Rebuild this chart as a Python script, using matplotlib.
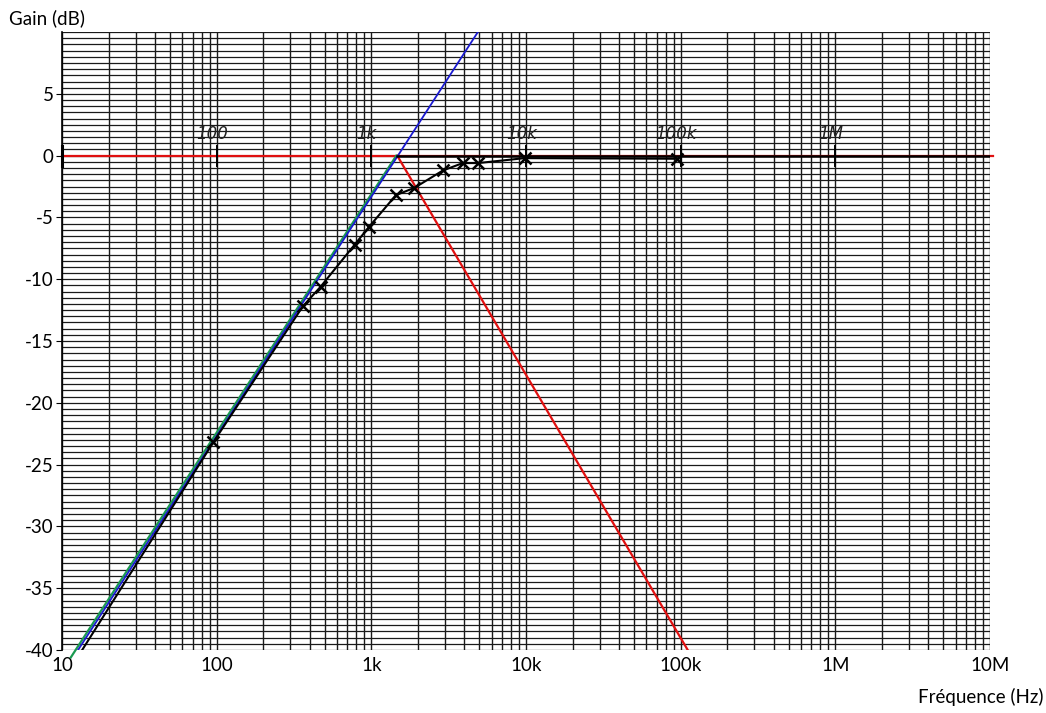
import numpy as np
import matplotlib.pyplot as plt

plt.rcParams['font.family'] = ['Lato', 'DejaVu Sans']

# measured points (Hz, dB)
freq_meas = [13.5, 95, 360, 470, 780, 960, 1440, 1900, 2900, 3900, 4900, 9800, 94000]
gain_meas = [-40, -23.2, -12.2, -10.6, -7.2, -5.8, -3.2, -2.6, -1.2, -0.6, -0.6, -0.2, -0.25]

# asymptotes
red_flat_f = [10, 1.05e7]
red_flat_g = [0, 0]
red_slope_f = [1470, 111000]
red_slope_g = [0, -40]
blue_f = [12.7, 4880]
blue_g = [-40, 10]
green_f = [11.4, 1450]
green_g = [-40.6, 0]
black_flat_f = [1470, 1e7]
black_flat_g = [0, 0]

decade_marks = [10, 100, 1000, 10000, 100000, 1000000]
hand_labels = ['100', '1k', '10k', '100k', '1M']
hand_pos = [100, 1000, 10000, 100000, 1000000]

yticks = [5, 0, -5, -10, -15, -20, -25, -30, -35, -40]
xticks = [10, 100, 1000, 10000, 100000, 1000000, 10000000]
xticklabels = ['10', '100', '1k', '10k', '100k', '1M', '10M']

fig = plt.figure(figsize=(10.46, 7.13), dpi=100)
ax = fig.add_axes([0.0593, 0.0884, 0.8872, 0.8666])
ax.set_xscale('log')
ax.set_xlim(10, 1e7)
ax.set_ylim(-40, 10)

# graph paper grid
for d in range(1, 7):
    for k in range(1, 10):
        ax.axvline(k * 10**d, color='#1a1a1a', lw=1.0, zorder=1)
ax.axvline(1e7, color='#1a1a1a', lw=1.0, zorder=1)
for g in np.arange(-40, 10.01, 0.5):
    ax.axhline(g, color='#1a1a1a', lw=0.9, zorder=1)

# asymptotic lines
ax.plot(red_flat_f, red_flat_g, color='#e01010', lw=1.6, zorder=3, clip_on=False)
ax.plot(red_slope_f, red_slope_g, color='#e01010', lw=1.6, zorder=3)
ax.plot(green_f, green_g, color='#1a9a50', lw=1.6, zorder=3, clip_on=False)
ax.plot(blue_f, blue_g, color='#1a1ad0', lw=1.3, zorder=4)
ax.plot(black_flat_f, black_flat_g, color='black', lw=1.8, zorder=4)

# measured curve
ax.plot(freq_meas, gain_meas, color='black', lw=1.5, marker='x', ms=8, mew=1.8,
        markevery=list(range(1, len(freq_meas))), zorder=5)

# hand marks on the 0 dB line
for f in decade_marks:
    ax.plot([f, f], [-0.8, 0.8], color='black', lw=2.2 if f == 10 else 1.4, zorder=5, clip_on=False)
for f, t in zip(hand_pos, hand_labels):
    ax.text(f * 0.93, 1.0, t, fontsize=12, style='italic', family='DejaVu Sans',
            ha='center', va='bottom', color='#222222', zorder=6)

ax.set_yticks(yticks)
ax.set_yticklabels([str(v) for v in yticks])
ax.set_xticks(xticks)
ax.set_xticklabels(xticklabels)
ax.minorticks_off()
ax.tick_params(axis='y', length=4, labelsize=13.5, pad=2)
ax.tick_params(axis='x', length=0, labelsize=13.5, pad=5)
for s in ['top', 'right', 'bottom']:
    ax.spines[s].set_visible(False)
ax.spines['left'].set_linewidth(1.2)

fig.text(0.009, 0.975, 'Gain (dB)', fontsize=13.5, ha='left', va='center')
fig.text(0.998, 0.022, 'Fréquence (Hz)', fontsize=13.5, ha='right', va='center')

fig.savefig('out.png', dpi=100)
